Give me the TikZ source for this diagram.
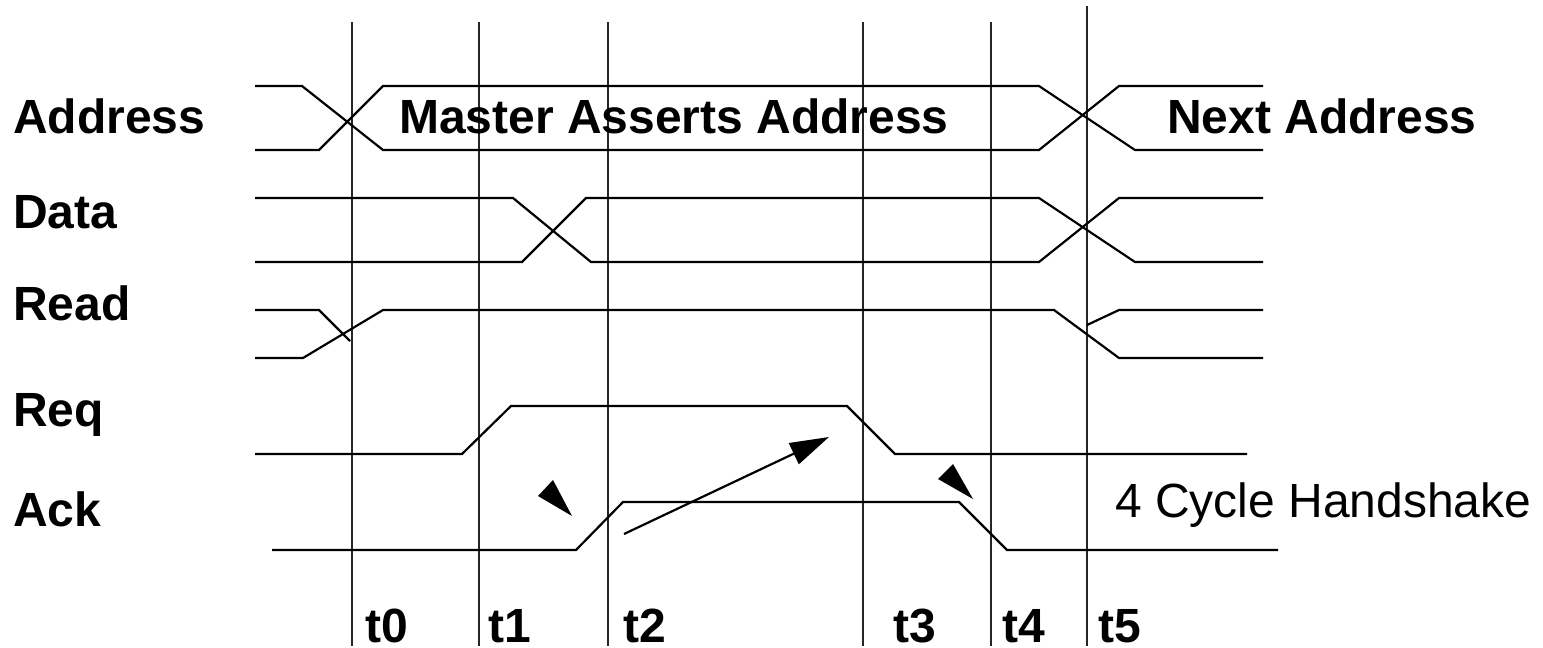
\documentclass[tikz,border=0pt]{standalone}
\usepackage{fontspec}
\setmainfont{Liberation Sans}
\usetikzlibrary{arrows.meta}
\begin{document}
\begin{tikzpicture}[x=1pt,y=-1pt,
  sig/.style={line width=2.2pt, line join=miter},
  gridline/.style={line width=2.2pt, draw=black!85},
  lbl/.style={anchor=base west, inner sep=0pt, font=\fontsize{48}{50}\selectfont\bfseries},
  plain/.style={anchor=base west, inner sep=0pt, font=\fontsize{48}{50}\selectfont}]
\useasboundingbox (0,0) rectangle (1543,648);
% time markers
\foreach \x/\t in {352/22, 479/22, 608/22, 863/22, 991/22, 1087/6}
  \draw[gridline] (\x,\t) -- (\x,646);
% Address
\draw[sig] (255,86) -- (302,86) -- (383,150) -- (1039,150) -- (1119,86) -- (1263,86);
\draw[sig] (255,150) -- (319,150) -- (383,86) -- (1039,86) -- (1135,150) -- (1263,150);
% Data
\draw[sig] (255,198) -- (513,198) -- (591,262) -- (1039,262) -- (1119,198) -- (1263,198);
\draw[sig] (255,262) -- (522,262) -- (586,198) -- (1039,198) -- (1135,262) -- (1263,262);
% Read
\draw[sig] (255,310) -- (319,310) -- (350,341);
\draw[sig] (255,358) -- (303,358) -- (383,310) -- (1054,310) -- (1119,358) -- (1263,358);
\draw[sig] (1087,325) -- (1119,310) -- (1263,310);
% Req
\draw[sig] (255,454) -- (462,454) -- (511,406) -- (847,406) -- (895,454) -- (1247,454);
% Ack
\draw[sig] (272,550) -- (576,550) -- (623,502) -- (959,502) -- (1007,550) -- (1278,550);
% handshake arrows
\coordinate (a0) at (624,534);
\coordinate (a1) at (829,437);
\draw[line width=2.2pt, -{Triangle[length=39pt,width=23pt]}] (a0) -- (a1);
\fill (572,516) -- (538,496) -- (553,480) -- cycle;
\fill (973,499) -- (938,479) -- (953,464) -- cycle;
% labels
\node[lbl] (address) at (13,133) {Address};
\node[lbl] (data) at (13,228) {Data};
\node[lbl] (read) at (13,320) {Read};
\node[lbl] (req) at (13,426) {Req};
\node[lbl] (ack) at (13,526) {Ack};
\node[lbl] (master) at (399,133) {Master Asserts Address};
\node[lbl] (next) at (1167,133) {Next Address};
\node[plain] (hs) at (1115,517) {4 Cycle Handshake};
\node[lbl] (t0) at (365,642) {t0};
\node[lbl] (t1) at (488,642) {t1};
\node[lbl] (t2) at (623,642) {t2};
\node[lbl] (t3) at (893,642) {t3};
\node[lbl] (t4) at (1002,642) {t4};
\node[lbl] (t5) at (1098,642) {t5};
\end{tikzpicture}
\end{document}
